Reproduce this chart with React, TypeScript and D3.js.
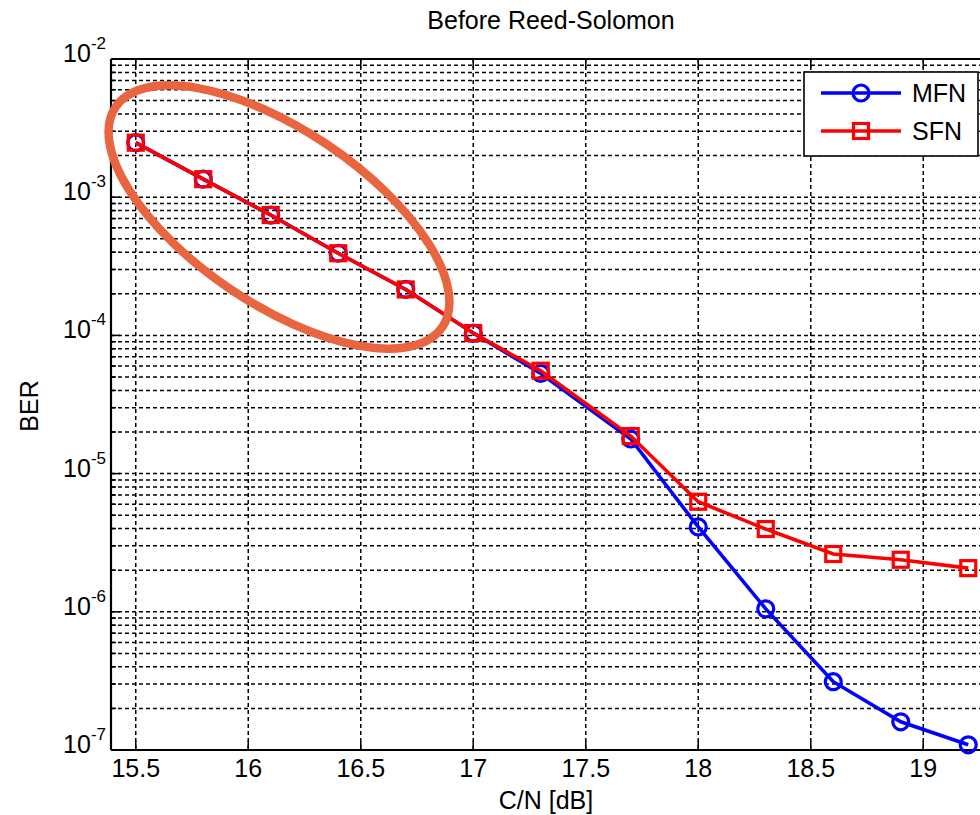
import React from "react";
import * as d3 from "d3";

const cn = [15.5, 15.8, 16.1, 16.4, 16.7, 17.0, 17.3, 17.7, 18.0, 18.3, 18.6, 18.9, 19.2];
const mfn = [2.48e-3, 1.35e-3, 7.43e-4, 3.93e-4, 2.15e-4, 1.04e-4, 5.3e-5, 1.78e-5, 4.11e-6, 1.05e-6, 3.12e-7, 1.6e-7, 1.09e-7];
const sfn = [2.48e-3, 1.35e-3, 7.43e-4, 3.93e-4, 2.15e-4, 1.04e-4, 5.55e-5, 1.87e-5, 6.26e-6, 3.97e-6, 2.62e-6, 2.38e-6, 2.07e-6];
const xTicks = [15.5, 16, 16.5, 17, 17.5, 18, 18.5, 19];
const yDecades = [-7, -6, -5, -4, -3, -2];
const seriesNames = ["MFN", "SFN"];
const seriesColors = ["#0000FF", "#FF0000"];

const W = 980;
const H = 815;
const left = 111, top = 59, bottom = 750, right = 990.75;
const FONT = "'Liberation Sans', Arial, Helvetica, sans-serif";

export default function App() {
  const x = d3.scaleLinear().domain([15.39, 19.3]).range([left, right]);
  const y = d3.scaleLog().domain([1e-7, 1e-2]).range([bottom, top]);

  const minor: number[] = [];
  for (let e = -7; e < -2; e++) {
    for (let m = 2; m <= 9; m++) minor.push(m * Math.pow(10, e));
  }
  const majors = yDecades.map((e) => Math.pow(10, e));

  const line = d3
    .line<[number, number]>()
    .x((d) => x(d[0]))
    .y((d) => y(d[1]));

  const mfnPts: [number, number][] = cn.map((c, i) => [c, mfn[i]]);
  const sfnPts: [number, number][] = cn.map((c, i) => [c, sfn[i]]);

  const dash = "4,3";
  const sq = 15;
  const lw = 3.6;
  const mw = 3.2;

  return (
    <svg
      width={W}
      height={H}
      style={{ position: "absolute", left: 0, top: 0, background: "#fff" }}
      fontFamily={FONT}
    >
      <rect x={0} y={0} width={W} height={H} fill="#fff" />
      {/* grid */}
      <g stroke="#000" strokeWidth={1.5} strokeDasharray={dash}>
        {xTicks.map((t) => (
          <line key={"vx" + t} x1={x(t)} x2={x(t)} y1={top} y2={bottom} />
        ))}
        {[...minor, ...majors.slice(1, -1)].map((v, i) => (
          <line key={"hy" + i} x1={left} x2={W} y1={y(v)} y2={y(v)} />
        ))}
      </g>
      {/* ticks */}
      <g stroke="#000" strokeWidth={1.5}>
        {xTicks.map((t) => (
          <g key={"tx" + t}>
            <line x1={x(t)} x2={x(t)} y1={bottom} y2={bottom - 9} />
            <line x1={x(t)} x2={x(t)} y1={top} y2={top + 9} />
          </g>
        ))}
        {majors.map((v, i) => (
          <line key={"ty" + i} x1={left} x2={left + 9} y1={y(v)} y2={y(v)} />
        ))}
        {minor.map((v, i) => (
          <line key={"tm" + i} x1={left} x2={left + 5} y1={y(v)} y2={y(v)} />
        ))}
      </g>
      {/* axes box */}
      <line x1={left} x2={W} y1={top} y2={top} stroke="#000" strokeWidth={2.2} />
      <line x1={left} x2={W} y1={bottom} y2={bottom} stroke="#000" strokeWidth={2.2} />
      <line x1={left} x2={left} y1={top} y2={bottom} stroke="#000" strokeWidth={2.2} />

      {/* tick labels */}
      <g fontSize={25} fill="#000">
        {xTicks.map((t) => (
          <text key={"lx" + t} x={x(t)} y={bottom + 27} textAnchor="middle">
            {String(t)}
          </text>
        ))}
        {yDecades.map((e) => (
          <text key={"ly" + e} x={left - 5} y={y(Math.pow(10, e)) + 3} textAnchor="end">
            10
            <tspan dy={-13} fontSize={17}>
              {String(e)}
            </tspan>
          </text>
        ))}
      </g>

      {/* series */}
      <g fill="none">
        <path d={line(mfnPts) || ""} stroke={seriesColors[0]} strokeWidth={lw} />
        {mfnPts.map((p, i) => (
          <circle key={"mc" + i} cx={x(p[0])} cy={y(p[1])} r={8} stroke={seriesColors[0]} strokeWidth={mw} />
        ))}
        <path d={line(sfnPts) || ""} stroke={seriesColors[1]} strokeWidth={lw} />
        {sfnPts.map((p, i) => (
          <rect
            key={"sr" + i}
            x={x(p[0]) - sq / 2}
            y={y(p[1]) - sq / 2}
            width={sq}
            height={sq}
            stroke={seriesColors[1]}
            strokeWidth={mw}
          />
        ))}
      </g>

      {/* legend */}
      <g>
        <rect x={804} y={72} width={174} height={84} fill="#fff" stroke="#000" strokeWidth={1.6} />
        {seriesNames.map((n, i) => {
          const ly = 93 + i * 38;
          return (
            <g key={n}>
              <line x1={821} x2={901} y1={ly} y2={ly} stroke={seriesColors[i]} strokeWidth={lw} />
              {i === 0 ? (
                <circle cx={861} cy={ly} r={8} fill="none" stroke={seriesColors[i]} strokeWidth={mw} />
              ) : (
                <rect x={861 - sq / 2} y={ly - sq / 2} width={sq} height={sq} fill="none" stroke={seriesColors[i]} strokeWidth={mw} />
              )}
              <text x={912} y={ly + 9} fontSize={25} fill="#000">
                {n}
              </text>
            </g>
          );
        })}
      </g>

      {/* titles */}
      <text x={551} y={29} textAnchor="middle" fontSize={25} fill="#000">
        Before Reed-Solomon
      </text>
      <text x={546} y={809} textAnchor="middle" fontSize={25} fill="#000">
        C/N [dB]
      </text>
      <text transform="translate(38,406) rotate(-90)" textAnchor="middle" fontSize={25} fill="#000">
        BER
      </text>

      {/* annotation ellipse */}
      <ellipse
        cx={279}
        cy={217}
        rx={197}
        ry={87}
        transform="rotate(34 279 217)"
        fill="none"
        stroke="#E8653F"
        strokeWidth={8.5}
      />
    </svg>
  );
}
